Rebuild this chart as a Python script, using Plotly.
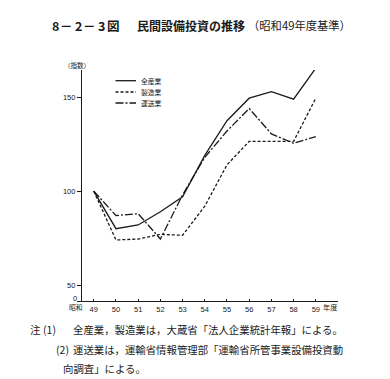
import plotly.graph_objects as go

# ---- data ----
years = [49, 50, 51, 52, 53, 54, 55, 56, 57, 58, 59]
year_labels = ["49", "50", "51", "52", "53", "54", "55", "56", "57", "58", "59"]
all_industry = [100, 80, 82, 89, 97, 119, 137.5, 149.5, 153, 149, 165.5]
manufacturing = [100, 74, 74.5, 77, 76.5, 92, 114, 126.5, 126.5, 126.5, 149.5]
transport = [100, 87, 88, 74.5, 98, 118, 132, 144, 130.5, 125.5, 129]
series_names = ["全産業", "製造業", "運送業"]
y_tick_vals = [41.5, 50, 100, 150]
y_tick_text = ["", "50", "100", "150"]

# ---- layout geometry (pixels) ----
W, H = 390, 379
PL, PR, PT, PB = 74, 330, 62, 293  # plot area edges

def px(x):
    return (x - PL) / (PR - PL)

def py(y):
    return (PB - y) / (PB - PT)

JP = "Noto Sans CJK JP"
INK = "#1a1a1a"

styles = [
    dict(color=INK, width=1.3, dash="solid"),
    dict(color=INK, width=1.3, dash="3px,2px"),
    dict(color=INK, width=1.3, dash="8px,2px,2px,2px"),
]

fig = go.Figure()
for name, vals, st in zip(series_names, [all_industry, manufacturing, transport], styles):
    fig.add_trace(go.Scatter(x=years, y=vals, mode="lines", name=name,
                             line=st, showlegend=False))

fig.update_layout(
    width=W, height=H,
    margin=dict(l=PL, r=W - PR, t=PT, b=H - PB, pad=0),
    paper_bgcolor="white", plot_bgcolor="white",
    font=dict(family="Liberation Sans", color=INK, size=8),
    xaxis=dict(range=[48.47, 60.0], tickmode="array", tickvals=years,
               ticktext=year_labels, ticks="inside", ticklen=2, tickwidth=1,
               tickcolor=INK, showline=True, linecolor=INK, linewidth=1.2,
               showgrid=False, zeroline=False, tickfont=dict(size=7.5),
               ticklabelstandoff=1),
    yaxis=dict(range=[41.5, 164.5], tickmode="array", tickvals=y_tick_vals,
               ticktext=y_tick_text, ticks="outside", ticklen=4, tickwidth=1,
               tickcolor=INK, showline=True, linecolor=INK, linewidth=1.2,
               showgrid=False, zeroline=False, tickfont=dict(size=7.5),
               ticklabelstandoff=0),
)

ann = []
def add_text(text, x, y, size, xanchor="left", bold=False, family=JP):
    t = f"<b>{text}</b>" if bold else text
    ann.append(dict(text=t, x=px(x), y=py(y), xref="paper", yref="paper",
                    xanchor=xanchor, yanchor="middle", showarrow=False,
                    font=dict(family=family, size=size, color=INK)))

# Title (pieces spaced like the reference)
for piece, xl in [("8", 42), ("－", 50), ("2", 65), ("－", 73), ("3", 87.5), ("図", 96.5)]:
    add_text(piece, xl, 17.5, 12.5, bold=True)
add_text("民間設備投資の推移", 127, 17.5, 12, bold=True)
add_text("（昭和49年度基準）", 238, 17.5, 11.3)
# axis unit
add_text("（指数）", 54, 57, 6.5)
# y-axis zero label (broken axis)
add_text("0", 70.5, 290, 7.5, xanchor="right", family="Liberation Sans")
# x-axis label extras
add_text("昭和", 76.5, 299, 6.8, xanchor="right")
add_text("年度", 312.5, 298.5, 7.2)

# Legend (manual)
leg_y = [72.7, 84, 95]
shapes = []
for name, st, yy in zip(series_names, styles, leg_y):
    shapes.append(dict(type="line", xref="paper", yref="paper",
                       x0=px(107.5), x1=px(128), y0=py(yy), y1=py(yy),
                       line=dict(color=INK, width=1.3, dash=st["dash"])))
    add_text(name, 130.5, yy, 6.8)

# Notes
add_text("注", 20, 321.5, 10.5)
add_text("(1)", 33, 321.5, 10.5)
add_text("全産業，製造業は，大蔵省「法人企業統計年報」による。", 63, 321.5, 10.4)
add_text("(2)", 46, 341.5, 10.5)
add_text("運送業は，運輸省情報管理部「運輸省所管事業設備投資動", 63, 341.5, 10.4)
add_text("向調査」による。", 53, 360, 10.4)

fig.update_layout(annotations=ann, shapes=shapes)
fig.write_html("out.html")
